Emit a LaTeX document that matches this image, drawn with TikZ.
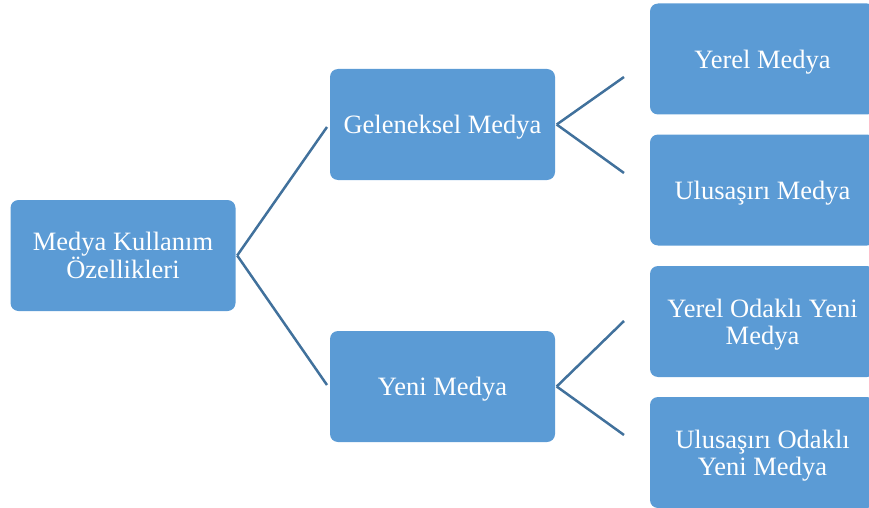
\documentclass[tikz,border=0pt]{standalone}
\usepackage{fontspec}
\setmainfont{Liberation Serif}
\usetikzlibrary{positioning}
\definecolor{boxblue}{RGB}{91,155,213}
\definecolor{linkblue}{RGB}{65,113,156}

\begin{document}
\begin{tikzpicture}[x=1pt,y=-1pt,
    kutu/.style={fill=boxblue, rounded corners=8pt, minimum width=225pt, minimum height=111pt,
        inner sep=0pt, text depth=0pt, text=white, align=center, font=\fontsize{26.5}{27}\selectfont},
    bag/.style={draw=linkblue, line width=2.5pt}]
                \useasboundingbox (0,0) rectangle (869,508);
                \clip (0,0) rectangle (869,508);

                % Define the boxes
                \node[kutu] (kok) at (123,255.5) {Medya Kullanım\\Özellikleri};
                \node[kutu] (gel) at (442.5,124.5) {Geleneksel Medya};
                \node[kutu] (yeni) at (442.5,386.5) {Yeni Medya};
                \node[kutu] (yerel) at (762.5,59) {Yerel Medya};
                \node[kutu] (ulus) at (762.5,190) {Ulusaşırı Medya};
                \node[kutu] (yyerel) at (762.5,321.5) {Yerel Odaklı Yeni\\Medya};
                \node[kutu] (yulus) at (762.5,452.5) {Ulusaşırı Odaklı\\Yeni Medya};

                % Define the free ends of the connectors
                \coordinate (k1) at (327,127);
                \coordinate (k2) at (327,385);
                \coordinate (g1) at (624,77);
                \coordinate (g2) at (624,173);
                \coordinate (y1) at (624,321);
                \coordinate (y2) at (624,435);

                % Draw the lines
                \foreach \from/\to in {kok/k1, kok/k2, gel/g1, gel/g2, yeni/y1, yeni/y2}
                    \draw[bag] ([xshift=1.5pt]\from.east) -- (\to);

            \end{tikzpicture}
\end{document}
